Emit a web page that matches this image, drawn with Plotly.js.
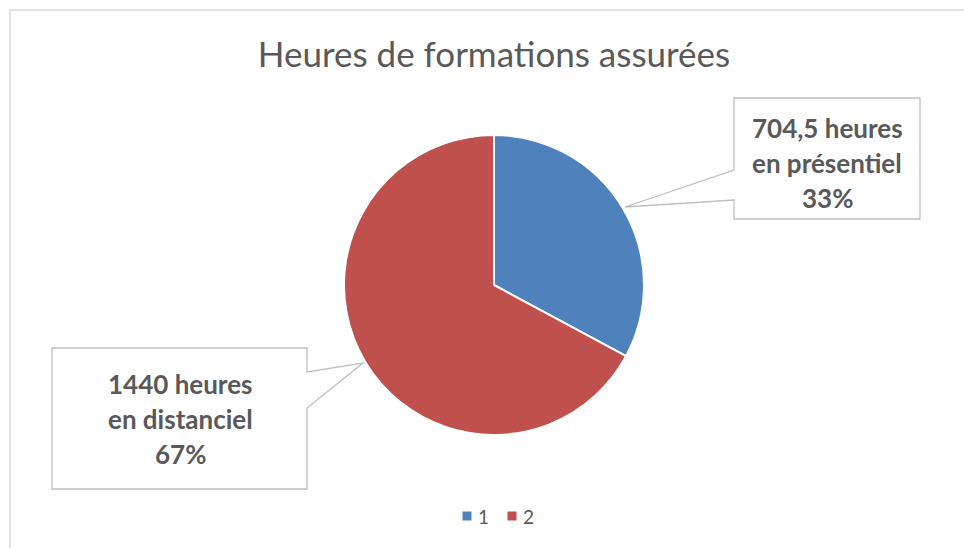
<!DOCTYPE html>
<html>
<head>
<meta charset="utf-8">
<script src="https://cdn.plot.ly/plotly-3.0.1.min.js"></script>
<style>html,body{margin:0;padding:0;background:#fff;}#chart{width:964px;height:548px;}</style>
</head>
<body>
<div id="chart"></div>
<script>
// Data
const sliceNames = ["1", "2"];
const hours = [704.5, 1440];
const hourLabels = ["704,5 heures", "1440 heures"];
const modeLabels = ["en présentiel", "en distanciel"];
const sliceColors = ["#4F81BD", "#C0504D"];
const chartTitle = "Heures de formations assurées";

const W = 964, H = 548;
const px = x => x / W;
const py = y => 1 - y / H;

const total = hours.reduce((a, b) => a + b, 0);
const pct = hours.map(v => Math.round(v / total * 100) + "%");

const trace = {
  type: "pie",
  labels: sliceNames,
  values: hours,
  sort: false,
  direction: "clockwise",
  rotation: 0,
  textinfo: "none",
  hoverinfo: "label+value+percent",
  showlegend: false,
  marker: { colors: sliceColors, line: { color: "#ffffff", width: 2 } },
  domain: { x: [px(344), px(644)], y: [py(435), py(135)] }
};

const textColor = "#595959";
const fam = "Lato, 'Open Sans', sans-serif";
const calloutFont = { family: fam, size: 26, color: textColor, weight: 700 };

// callout centers (px) and line spacing
const calloutCenters = [[827, 163], [180, 419]];
const lineGap = 35;
const annotations = [];
hours.forEach((v, i) => {
  const lines = [hourLabels[i], modeLabels[i], pct[i]];
  lines.forEach((t, j) => {
    annotations.push({
      xref: "paper", yref: "paper",
      x: px(calloutCenters[i][0]), y: py(calloutCenters[i][1] + (j - 1) * lineGap),
      xanchor: "center", yanchor: "middle",
      text: "<b>" + t + "</b>", showarrow: false,
      font: calloutFont
    });
  });
});

function path(pts) {
  return "M " + pts.map(p => px(p[0]) + "," + py(p[1])).join(" L ") + " Z";
}

const shapes = [
  // outer chart frame
  { type: "path", xref: "paper", yref: "paper",
    path: "M " + px(10) + "," + py(560) + " L " + px(10) + "," + py(10) + " L " + px(980) + "," + py(10),
    line: { color: "#d9d9d9", width: 1.5 }, layer: "below" },
  // right callout
  { type: "path", xref: "paper", yref: "paper",
    path: path([[734, 98], [920, 98], [920, 219], [734, 219], [734, 200], [625, 207], [734, 170]]),
    fillcolor: "#ffffff", line: { color: "#bfbfbf", width: 1.3 }, layer: "above" },
  // left callout
  { type: "path", xref: "paper", yref: "paper",
    path: path([[52, 348], [307, 348], [307, 372], [363, 363], [307, 408], [307, 489], [52, 489]]),
    fillcolor: "#ffffff", line: { color: "#bfbfbf", width: 1.3 }, layer: "above" }
];

// legend (drawn from the slice names and colours)
const legendX = [467, 512];
const legendY = 516;
sliceNames.forEach((name, i) => {
  shapes.push({ type: "rect", xref: "paper", yref: "paper",
    x0: px(legendX[i] - 4.5), x1: px(legendX[i] + 4.5),
    y0: py(legendY + 4.5), y1: py(legendY - 4.5),
    fillcolor: sliceColors[i], line: { width: 0 } });
  annotations.push({ xref: "paper", yref: "paper",
    x: px(legendX[i] + 9), y: py(legendY),
    xanchor: "left", yanchor: "middle", showarrow: false,
    text: name, font: { family: fam, size: 19, color: textColor } });
});

const layout = {
  width: W, height: H,
  margin: { l: 0, r: 0, t: 0, b: 0 },
  paper_bgcolor: "#ffffff",
  plot_bgcolor: "#ffffff",
  title: {
    text: chartTitle,
    font: { family: fam, size: 35, color: textColor, weight: 400 },
    x: px(494), xanchor: "center",
    y: py(55), yanchor: "middle",
    xref: "paper", yref: "paper"
  },
  showlegend: false,
  shapes: shapes,
  annotations: annotations
};

Plotly.newPlot("chart", [trace], layout, { displayModeBar: false, staticPlot: true });
</script>
</body>
</html>
